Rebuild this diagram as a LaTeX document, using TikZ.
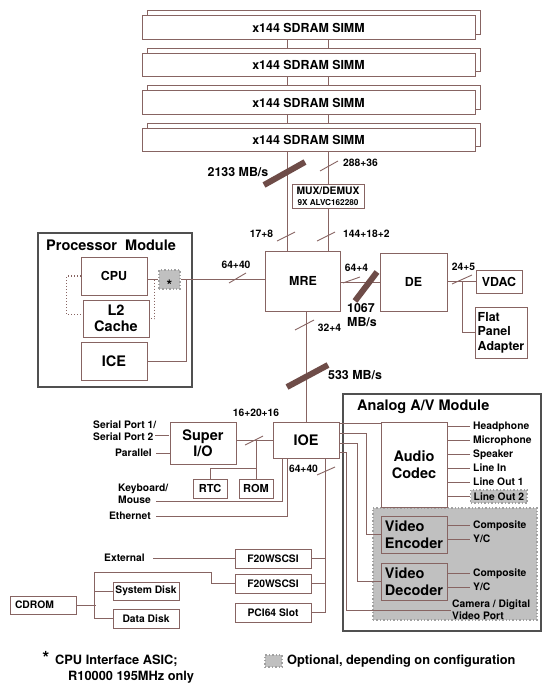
\documentclass[tikz,border=0pt]{standalone}
\usepackage{fontspec}
\setmainfont{TeX Gyre Heros}
\usetikzlibrary{positioning,shadows}
\definecolor{wirebrown}{RGB}{135,100,98}
\definecolor{fatbrown}{RGB}{110,76,72}
\definecolor{framegray}{RGB}{80,80,80}
\definecolor{optgray}{RGB}{192,192,192}
\definecolor{optedge}{RGB}{160,160,160}
\newcommand{\fbig}{\fontsize{14.5}{16.5}\selectfont\bfseries}
\newcommand{\fmid}{\fontsize{12.4}{14.5}\selectfont\bfseries}
\newcommand{\fmed}{\fontsize{11}{13}\selectfont\bfseries}
\newcommand{\fsmall}{\fontsize{10.3}{12.2}\selectfont\bfseries}
\newcommand{\ftiny}{\fontsize{8.2}{10}\selectfont\bfseries}
\newcommand{\fkey}{\fontsize{12.8}{16}\selectfont\bfseries}

\begin{document}
\begin{tikzpicture}[
        x=1pt, y=-1pt,
        box/.style={draw=wirebrown, line width=1pt, fill=white, inner sep=0pt, align=center},
        simm/.style={box, minimum width=333pt, minimum height=23.5pt, font=\fmid,
            copy shadow={shadow xshift=5pt, shadow yshift=5pt, draw=wirebrown, fill=white, line width=1pt}},
        frame/.style={draw=framegray, line width=1.2pt, inner sep=0pt},
        opt/.style={fill=optgray, draw=optedge, dotted, line width=1.4pt, inner sep=0pt},
        lbl/.style={inner sep=1pt, font=\fsmall, text height=7.4pt, text depth=0pt},
        lbls/.style={inner sep=1pt, font=\fsmall, align=left},
        port/.style={lbl, anchor=west, inner xsep=3pt},
        wire/.style={draw=wirebrown, line width=1pt},
        dotwire/.style={wire, dotted, line width=1.1pt},
        pics/tick/.style args={#1/#2}{code={\draw[wirebrown, line width=0.9pt] (-#1,#2) -- (#1,-#2);}},
        pics/fat/.style args={#1/#2}{code={\draw[fatbrown, line width=6pt] (-#1,#2) -- (#1,-#2);}}
    ]
    \useasboundingbox (0,0) rectangle (550,690);

    % Memory
    \foreach \i/\y in {1/27.5,2/65,3/102.5,4/140} {
        \node[simm] (s\i) at (308.5,\y) {x144 SDRAM SIMM};
    }
    \foreach \i/\j in {1/2,2/3,3/4} {
        \draw[wire] ([xshift=-21.5pt]s\i.south) -- ([xshift=-21.5pt,yshift=5pt]s\j.north);
        \draw[wire] ([xshift=19.5pt]s\i.south) -- ([xshift=19.5pt,yshift=5pt]s\j.north);
    }
    \node[box, font=\fsmall, minimum width=72pt, minimum height=24pt] (mux) at (328,196) {MUX/DEMUX\\[-1.5pt]{\ftiny 9X ALVC162280}};

    % Graphics path
    \node[box, font=\fmid, minimum width=75pt, minimum height=60pt] (mre) at (303,281) {MRE};
    \node[box, font=\fmid, minimum width=67pt, minimum height=58pt] (de) at (413.5,282) {DE};
    \node[box, font=\fmid, minimum width=46pt, minimum height=23pt] (vdac) at (499,281.5) {VDAC};
    \node[box, font=\fmid, minimum width=52pt, minimum height=51pt, align=left] (fpa) at (501,332.5) {Flat\\Panel\\Adapter};

    \coordinate (busL) at ([xshift=-21.5pt]s4.south);
    \coordinate (busR) at ([xshift=19.5pt]s4.south);
    \draw[wire] (busL) -- (busL |- mre.north);
    \draw[wire] (busR) -- (mux.north);
    \draw[wire] (mux.south) -- (mux.south |- mre.north);
    \draw[wire] (mre.east |- de.west) -- (de.west);
    \draw[wire] (de.east |- vdac.west) -- (vdac.west);
    \draw[wire] (de.east |- vdac.west) ++(15,0) |- (fpa.west);

    % Processor Module
    \node[frame, minimum width=154pt, minimum height=154pt] (pm) at (115,310) {};
    \node[font=\fbig, anchor=base west, inner sep=0pt] (pmtitle) at (46,250) {Processor\ \ Module};
    \node[box, font=\fmid, minimum width=66pt, minimum height=38pt] (cpu) at (114,276) {CPU};
    \node[box, font=\fbig, minimum width=66pt, minimum height=37pt] (l2) at (116,318.5) {L2\\Cache};
    \node[box, font=\fbig, minimum width=66pt, minimum height=38pt] (ice) at (114,361) {ICE};
    \node[opt, font=\fbig, minimum width=21pt, minimum height=19pt, text height=6pt, text depth=0pt] (star) at (169.5,279.5) {\raisebox{-0.58em}{*}};

    \draw[wire] (cpu.east |- star.west) -- (star.west);
    \draw[wire] (star.east) -- (star.east -| mre.west);
    \draw[wire] (ice.east) -| ([xshift=6pt]star.east);
    \draw[dotwire] (cpu.west) -- ++(-14,0) |- ([yshift=4pt]l2.west);
    \draw[dotwire] (cpu.east |- star.west) ++(7,0) |- (l2.east);

    % I/O
    \node[box, font=\fbig, minimum width=66pt, minimum height=36pt] (ioe) at (306,440) {IOE};
    \node[box, font=\fbig, minimum width=66pt, minimum height=42pt] (sio) at (203,443) {Super\\I/O};
    \node[box, font=\fmed, minimum width=34pt, minimum height=19pt] (rtc) at (210,488.5) {RTC};
    \node[box, font=\fmed, minimum width=34pt, minimum height=19pt] (rom) at (256,488.5) {ROM};
    \draw[wire] (ioe.north |- mre.south) -- (ioe.north);
    \draw[wire] (sio.east |- ioe.west) -- (ioe.west);
    \draw[wire] (rom.north |- ioe.west) -- (rom.north);
    \draw[wire] ([yshift=10pt]rom.north) -| (rtc.north);

    \node[lbls, anchor=west] (serial) at (92,430.5) {Serial Port 1/\\Serial Port 2};
    \node[lbl, anchor=east] (par) at (153,453) {Parallel};
    \node[lbls, anchor=west] (kbd) at (117,494) {Keyboard/\\Mouse};
    \node[lbl, anchor=east] (eth) at (152,515.5) {Ethernet};
    \coordinate (kbdin) at (156,501);
    \draw[wire] (serial.east) ++(-2,4.5) -- ++(14,0);
    \draw[wire] (par.east) ++(3,0) -- (sio.west |- par.east);
    \draw[wire] (kbdin) -| ([xshift=-24pt]ioe.south);
    \draw[wire] (eth.east) ++(4,0.5) -| ([xshift=-19pt]ioe.south);

    % SCSI and PCI
    \node[box, font=\fsmall, minimum width=76pt, minimum height=19pt] (scsiA) at (273,558.5) {F20WSCSI};
    \node[box, font=\fsmall, minimum width=76pt, minimum height=19pt] (scsiB) at (273,583.5) {F20WSCSI};
    \node[box, font=\fsmall, minimum width=76pt, minimum height=19pt] (pci) at (273,612.5) {PCI64 Slot};
    \draw[wire] ([xshift=19pt]ioe.south) |- (pci.east);
    \draw[wire] (scsiA.east) -| ([xshift=19pt]ioe.south);
    \draw[wire] (scsiB.east) -| ([xshift=19pt]ioe.south);

    \node[lbl, anchor=east] (ext) at (146,557.5) {External};
    \draw[wire] (ext.east) ++(7,1) -- (scsiA.west);

    \node[box, font=\fsmall, minimum width=66pt, minimum height=18pt, text width=56pt, align=left] (cdrom) at (43,605) {CDROM};
    \node[box, font=\fsmall, minimum width=66pt, minimum height=18pt] (sys) at (146,591) {System Disk};
    \node[box, font=\fsmall, minimum width=66pt, minimum height=19pt] (data) at (146,618.5) {Data Disk};
    \draw[wire] (scsiB.west) -- ++(-23,0) -- ++(0,-11) -| ([xshift=-18pt]data.west) -- (data.west);
    \draw[wire] ([xshift=-18pt]sys.west) -- (sys.west);
    \draw[wire] (cdrom.east) -- ++(19,0);

    % Analog A/V Module
    \node[frame, minimum width=198pt, minimum height=237pt] (avm) at (442,512.5) {};
    \node[font=\fbig, anchor=base west, inner sep=0pt] (avtitle) at (357,410) {Analog A/V Module};
    \node[opt, minimum width=164pt, minimum height=112pt] (optarea) at (455,564) {};
    \node[box, font=\fbig, minimum width=66pt, minimum height=85pt] (codec) at (414,464.5) {Audio\\Codec};
    \node[box, fill=optgray, font=\fbig, minimum width=66pt, minimum height=37pt, align=left] (enc) at (414,534.5) {Video\\Encoder};
    \node[box, fill=optgray, font=\fbig, minimum width=66pt, minimum height=37pt, align=left] (dec) at (414,581.5) {Video\\Decoder};

    \foreach \t [count=\i] in {Headphone,Microphone,Speaker,Line In,Line Out 1} {
        \node[port] (out\i) at (470,412+14*\i) {\t};
        \draw[wire] (codec.east |- out\i.west) -- (out\i.west);
    }
    \node[port, opt, inner xsep=3pt, minimum height=13pt] (out6) at (470,496.5) {Line Out 2};
    \draw[wire] (codec.east |- out6.west) -- (out6.west);

    \node[port] (encA) at (470,525) {Composite};
    \node[port] (encB) at (470,539) {Y/C};
    \node[port] (decA) at (470,573) {Composite};
    \node[port] (decB) at (470,587) {Y/C};
    \foreach \p in {encA,encB} \draw[wire] (enc.east |- \p.west) -- (\p.west);
    \foreach \p in {decA,decB} \draw[wire] (dec.east |- \p.west) -- (\p.west);
    \node[lbls, anchor=west] (cam) at (451,610) {Camera / Digital\\Video Port};

    \foreach \n/\s in {A/2,B/12,C/22,D/31}
        \coordinate (ioe\n) at ([yshift=-\s]ioe.north east);
    \draw[wire] (ioeA) -- (codec.west |- ioeA);
    \draw[wire] (ioeB) -| ([xshift=-14pt]enc.west) -- (enc.west);
    \draw[wire] (ioeC) -| ([xshift=-23pt]dec.west) -- (dec.west);
    \draw[wire] (ioeD) -| ([xshift=-105pt]cam.west) -- (cam.west);

    % Bus widths
    \pic at (286,236.5) {tick=9/4.5};
    \pic at (326,236.5) {tick=9/4.5};
    \pic at (329,166) {tick=9/5};
    \pic at (237.5,278) {tick=8.5/5};
    \pic at (351.5,280) {tick=8.5/3};
    \pic at (462,279.5) {tick=10/4.5};
    \pic at (304.5,325) {tick=9.5/5};
    \pic at (254,440.5) {tick=9/4.5};
    \pic at (326,471) {tick=9/4};
    \pic at (284.5,173.5) {fat=20.5/11.5};
    \pic at (366,286.5) {fat=11/14.5};
    \pic at (307.5,376) {fat=20.5/11};

    \node[lbl, font=\fmid, text height=8.9pt] (bw1) at (238,172) {2133 MB/s};
    \node[lbl, anchor=west] (w288) at (342,163) {288+36};
    \node[lbl] (w17) at (261.5,234) {17+8};
    \node[lbl, anchor=west] (w144) at (342,234) {144+18+2};
    \node[lbl] (w64p) at (236,265) {64+40};
    \node[lbl] (w64d) at (356.5,268) {64+4};
    \node[lbls, font=\fmid] (bw2) at (362,315) {1067\\MB/s};
    \node[lbl] (w24) at (463.5,267) {24+5};
    \node[lbl] (w32) at (329.5,328) {32+4};
    \node[lbl, font=\fmid, text height=8.9pt, anchor=west] (bw3) at (327,375) {533 MB/s};
    \node[lbl] (w16) at (256,413) {16+20+16};
    \node[lbl] (w64i) at (303.5,469) {64+40};

    % Notes
    \node[font=\fontsize{18}{18}\selectfont\bfseries, inner sep=0pt] (fnstar) at (46,658) {*};
    \node[font=\fkey, anchor=west, align=left, inner sep=0pt] (fntext) at (55,669) {CPU Interface ASIC;\\\hspace*{13pt}R10000 195MHz only};
    \node[opt, minimum width=17pt, minimum height=12pt] (key) at (273.5,661) {};
    \node[font=\fkey, anchor=west, inner sep=0pt] (keytext) at (287,661) {Optional, depending on configuration};

\end{tikzpicture}
\end{document}
